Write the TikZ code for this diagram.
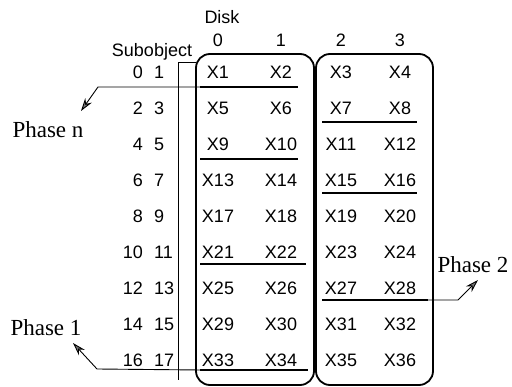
\documentclass[tikz,border=0pt]{standalone}
\usepackage{fontspec}
\setmainfont{Liberation Serif}
\setsansfont{Liberation Sans}
\usetikzlibrary{arrows.meta}
\begin{document}
\begin{tikzpicture}[x=1pt,y=-1pt,
  lab/.style={font=\sffamily\fontsize{18}{20}\selectfont, inner sep=0pt},
  phase/.style={font=\rmfamily\fontsize{23}{26}\selectfont, inner sep=0pt},
  diskbox/.style={draw, line width=1.8pt, rounded corners=14pt},
  stripe/.style={line width=2.4pt},
  rule/.style={line width=0.8pt},
  lead/.style={line width=0.9pt, line join=miter,
    -{Stealth[length=13pt,width=8pt,fill=black!55]}}]
\useasboundingbox (0,0) rectangle (512,387);

% headers
\node[lab] (disk) at (222,17) {Disk};
\node[lab] (subobj) at (152,52) {Subobject};
\foreach \c/\x in {0/218,1/281,2/341,3/400}
  \node[lab] (d\c) at (\x,40) {\c};

% subobject numbers
\foreach \r in {0,...,8}{
  \pgfmathtruncatemacro\a{2*\r}
  \pgfmathtruncatemacro\b{2*\r+1}
  \node[lab,anchor=east] (sa\r) at (143,{72+36*\r}) {\a};
  \node[lab,anchor=west] (sb\r) at (154,{72+36*\r}) {\b};
}

% stripe units on the four disks
\foreach \r in {0,...,8}
  \foreach \c/\x in {0/218,1/281,2/341,3/400}{
    \pgfmathtruncatemacro\n{4*\r+\c+1}
    \node[lab] (c\n) at (\x,{72+36*\r}) {X\n};
  }

% subobject bracket and disk groups
\draw[rule] (178,380) -- (178,62) -- (196,62);
\draw[diskbox] (196,54) rectangle (314,385);
\draw[diskbox] (316,54) rectangle (433,385);

% phase boundaries
\coordinate (u1a) at (200,87);  \coordinate (u1b) at (298,87);
\coordinate (u2a) at (322,122); \coordinate (u2b) at (417,122);
\coordinate (u3a) at (200,159); \coordinate (u3b) at (298,159);
\coordinate (u4a) at (322,193); \coordinate (u4b) at (417,193);
\coordinate (u5a) at (200,264); \coordinate (u5b) at (306,264);
\coordinate (u6a) at (322,300); \coordinate (u6b) at (428,300);
\coordinate (u7a) at (200,370); \coordinate (u7b) at (308,370);
\foreach \i in {1,...,7}
  \draw[stripe] (u\i a) -- (u\i b);

% phase labels with leaders
\node[phase] (pn) at (48,130) {Phase n};
\node[phase] (p1) at (46,328) {Phase 1};
\node[phase] (p2) at (473,265) {Phase 2};

\coordinate (bn) at (98,87);   \coordinate (tn) at (81,111);
\coordinate (b1) at (97,369);  \coordinate (t1) at (73,343);
\coordinate (b2) at (458,300); \coordinate (t2) at (478,280);
\draw[lead] (u1a) -- (bn) -- (tn);
\draw[lead] (u7a) -- (b1) -- (t1);
\draw[lead] (u6b) -- (b2) -- (t2);
\end{tikzpicture}
\end{document}
